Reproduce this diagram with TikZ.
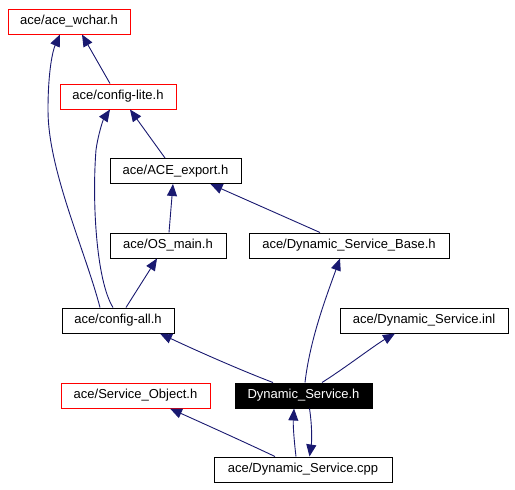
\documentclass[tikz,border=0pt]{standalone}
\usepackage{fontspec}
\setmainfont{Liberation Sans}
\usetikzlibrary{arrows.meta}
\definecolor{edgeblue}{HTML}{191970}
\tikzset{
  box/.style={draw=black, line width=1pt, minimum height=25pt, inner sep=0pt, font=\fontsize{13}{15}\selectfont, text=black},
  redbox/.style={box, draw=red},
  dark/.style={box, fill=black, text=white},
  inc/.style={draw=edgeblue, line width=0.9pt, -{Triangle[length=12pt,width=10pt,fill=edgeblue]}},
}
\begin{document}
\begin{tikzpicture}[x=1pt,y=-1pt]
\useasboundingbox (0,0) rectangle (515,490);
\node[redbox, minimum width=122pt] (wchar) at (69,21.5) {ace/ace\_wchar.h};
\node[redbox, minimum width=116pt] (lite) at (118,96.5) {ace/config-lite.h};
\node[box, minimum width=131pt] (export) at (175.5,171) {ace/ACE\_export.h};
\node[box, minimum width=116pt] (osmain) at (168,245.5) {ace/OS\_main.h};
\node[box, minimum width=200pt] (base) at (349,245.5) {ace/Dynamic\_Service\_Base.h};
\node[box, minimum width=112pt] (all) at (118,320.5) {ace/config-all.h};
\node[box, minimum width=168pt] (inl) at (424,320.5) {ace/Dynamic\_Service.inl};
\node[redbox, minimum width=149pt] (svcobj) at (135.5,395.5) {ace/Service\_Object.h};
\node[dark, minimum width=137pt] (dsh) at (303.5,395.5) {Dynamic\_Service.h};
\node[box, minimum width=178pt] (cpp) at (303,469.5) {ace/Dynamic\_Service.cpp};

\draw[inc] ([xshift=-8pt]lite.north) -- ([xshift=13pt]wchar.south);
\draw[inc] ([xshift=-18pt]all.north) .. controls (85,250) and (48,170) .. (48,110) .. controls (48,70) and (53,50) .. ([xshift=-9pt]wchar.south);
\draw[inc] ([xshift=-5pt]all.north) .. controls (96,280) and (92,200) .. (96,150) .. controls (98,135) and (103,120) .. ([xshift=-8pt]lite.south);
\draw[inc] ([xshift=-10.5pt]export.north) -- ([xshift=12pt]lite.south);
\draw[inc] ([xshift=1pt]osmain.north) -- ([xshift=-2.5pt]export.south);
\draw[inc] ([xshift=-29pt]base.north) -- ([xshift=35pt]export.south);
\draw[inc] ([xshift=8pt]all.north) -- ([xshift=-11pt]osmain.south);
\draw[inc] ([xshift=-30.5pt]dsh.north) .. controls (240,370) and (195,350) .. ([xshift=42pt]all.south);
\draw[inc] ([xshift=1.5pt]dsh.north) .. controls (310,340) and (325,300) .. ([xshift=-9pt]base.south);
\draw[inc] ([xshift=18.5pt]dsh.north) .. controls (345,368) and (375,345) .. ([xshift=-29pt]inl.south);
\draw[inc] ([xshift=-28pt]cpp.north) .. controls (240,440) and (200,422) .. ([xshift=34.5pt]svcobj.south);
\draw[inc] ([xshift=-7pt]cpp.north) .. controls (294,440) and (293,425) .. ([xshift=-9.5pt]dsh.south);
\draw[inc] ([xshift=6pt]dsh.south) .. controls (312,425) and (312,440) .. ([xshift=6.5pt]cpp.north);
\end{tikzpicture}
\end{document}
